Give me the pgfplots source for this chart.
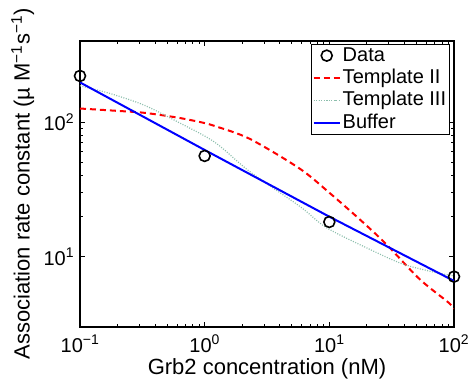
\documentclass[border=0pt]{standalone}
\usepackage{fontspec}
\setmainfont{Liberation Sans}
\usepackage{pgfplots}
\pgfplotsset{compat=1.18}
\definecolor{tgreen}{RGB}{140,190,172}
\pgfplotsset{
  lineleg/.style={legend image code/.code={\draw[mark repeat=2,mark phase=2,##1] plot coordinates {(0pt,0pt) (13pt,0pt) (26pt,0pt)};}},
  dataleg/.style={legend image code/.code={\draw[##1] plot coordinates {(13pt,0pt)};}},
}
\begin{document}
\fontsize{20}{23}\selectfont
\begin{tikzpicture}
\begin{axis}[
  name=ax,
  scale only axis,
  width=374pt, height=286pt,
  xmode=log, ymode=log,
  xmin=0.1, xmax=100, ymin=3, ymax=400,
  axis line style={line width=1.2pt},
  every tick/.style={black, line width=0.8pt},
  major tick length=5pt, minor tick length=3pt,
  tick align=inside,
  xtick={0.1,1,10,100},
  xticklabels={10\textsuperscript{−1},10\textsuperscript{0},10\textsuperscript{1},10\textsuperscript{2}},
  ytick={10,100},
  yticklabels={10\textsuperscript{1},10\textsuperscript{2}},
  tick label style={font=\fontsize{20}{23}\selectfont},
  xticklabel style={yshift=-1pt},
  yticklabel style={xshift=1pt},
  xlabel={Grb2 concentration (nM)},
  ylabel={Association rate constant (µ M\textsuperscript{−1}s\textsuperscript{−1})},
  label style={font=\fontsize{22}{24}\selectfont},
  xlabel style={yshift=7pt},
  ylabel style={yshift=-4pt},
  legend style={at={(rel axis cs:0.988,0.99)}, anchor=north east, draw=black, line width=0.8pt,
    font=\fontsize{20}{23}\selectfont, row sep=1pt, inner xsep=1pt, inner ysep=1pt,
    legend cell align=left},
  lineleg,
]
\addplot[only marks, mark=o, mark size=5.5pt, line width=1.6pt, black, dataleg] coordinates {
  (0.1,220) (1,56) (10,18.1) (100,7.1)};
\addlegendentry{Data}
\addplot[red, line width=2pt, dash pattern=on 6pt off 4pt, smooth] coordinates {
  (0.1,126) (0.2,121) (0.33,117) (0.6,108) (0.917,100) (1.2,93.5) (2.3,75) (5.8,45) (10.1,29.6) (18,18.5) (28.8,12.3) (53,6.8) (90,4.57) (100,4.1)};
\addlegendentry{Template II}
\addplot[tgreen, line width=1.2pt, dash pattern=on 1pt off 1.5pt, smooth] coordinates {
  (0.1,186) (0.178,162) (0.33,133) (0.61,100) (1.2,71) (2.3,42.8) (5.8,23.6) (9.5,16.4) (21.2,11.3) (39,8.8) (72,7.6) (100,7.2)};
\addlegendentry{Template III}
\addplot[blue, line width=2pt] coordinates {
  (0.1,197) (1,62) (10,19.8) (100,6.6)};
\addlegendentry{Buffer}
\coordinate (bl) at (rel axis cs:0,0);
\coordinate (tr) at (rel axis cs:1,1);
\end{axis}
\pgfresetboundingbox
\path[use as bounding box] ([shift={(-80pt,-54pt)}]bl) rectangle ([shift={(18pt,41pt)}]tr);
\end{tikzpicture}
\end{document}
